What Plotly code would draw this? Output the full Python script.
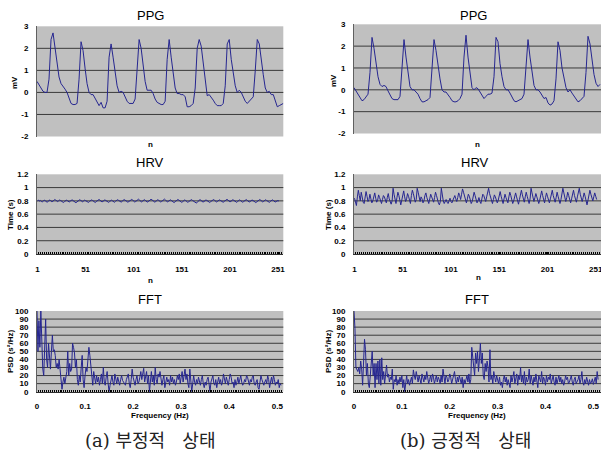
import plotly.graph_objects as go

# ---------------- data ----------------
ppg_left = [0.5, 0.35, 0.2, 0.05, 0.0, 0.0, 0.6, 2.4, 2.7, 2.0, 1.3, 0.7, 0.4, 0.3, 0.15, 0.0,
            -0.3, -0.5, -0.55, -0.55, -0.5, 0.6, 2.3, 1.9, 1.1, 0.4, 0.0, -0.1, -0.1, -0.25, -0.45,
            -0.6, -0.45, -0.7, -0.7, -0.4, 1.6, 2.2, 1.6, 0.9, 0.3, 0.0, 0.05, 0.0, -0.2, -0.4, -0.5,
            -0.5, -0.5, -0.3, 1.0, 2.4, 2.0, 1.2, 0.5, 0.1, 0.1, 0.1, -0.05, -0.3, -0.45, -0.5, -0.55,
            -0.55, -0.4, 1.5, 2.4, 1.6, 0.8, 0.2, -0.05, -0.05, -0.1, -0.1, -0.2, -0.65, -0.65, -0.6,
            -0.5, 0.2, 2.0, 2.4, 2.1, 1.3, 0.4, -0.15, -0.1, -0.2, -0.35, -0.5, -0.6, -0.6, -0.6, -0.5,
            0.3, 2.2, 2.4, 1.5, 0.9, 0.3, 0.0, 0.1, 0.0, -0.2, -0.4, -0.5, -0.4, -0.35, -0.2, 1.0, 2.4,
            2.2, 1.4, 0.8, 0.2, 0.0, 0.05, -0.1, -0.1, -0.35, -0.65, -0.6, -0.55, -0.5]

ppg_right = [0.1, -0.05, -0.25, -0.4, -0.5, -0.45, -0.35, -0.2, 0.8, 2.4, 1.9, 1.1, 0.6, 0.25, 0.15,
             0.2, 0.15, -0.05, -0.25, -0.4, -0.45, -0.45, -0.45, -0.3, 1.2, 2.3, 1.5, 0.8, 0.15, 0.0,
             0.0, -0.1, -0.2, -0.4, -0.55, -0.55, -0.5, -0.45, -0.35, 1.2, 2.3, 1.8, 1.0, 0.5, 0.0, -0.1,
             -0.1, -0.2, -0.35, -0.5, -0.55, -0.55, -0.5, -0.4, -0.2, 1.5, 2.5, 1.5, 0.7, 0.1, 0.0, 0.1,
             0.05, -0.1, -0.3, -0.4, -0.3, -0.2, -0.2, -0.15, 0.6, 2.4, 2.2, 1.2, 0.6, 0.15, 0.0, 0.0,
             -0.15, -0.35, -0.5, -0.55, -0.5, -0.45, -0.4, -0.2, 1.2, 2.3, 1.5, 0.8, 0.2, 0.0, 0.0, -0.1,
             -0.25, -0.4, -0.35, -0.6, -0.7, -0.65, -0.5, 0.5, 2.2, 1.8, 1.0, 0.5, 0.1, -0.1, 0.0, -0.15,
             -0.3, -0.45, -0.55, -0.5, -0.4, -0.3, 0.8, 2.45, 2.1, 1.3, 0.7, 0.3, 0.15, 0.25]

hrv_left_ms = [800, 812, 795, 806, 790, 785, 798, 810, 802, 788, 779, 792, 805, 815, 800, 786, 794, 808,
               820, 811, 797, 789, 801, 813, 806, 792, 780, 775, 788, 799, 810, 804, 791, 783, 795, 807,
               816, 803, 790, 778, 772, 784, 797, 809, 818, 806, 793, 786, 799, 811, 803, 790, 781, 777,
               789, 802, 814, 808, 795, 783, 776, 788, 800, 812, 821, 809, 796, 785, 791, 804, 815, 806,
               794, 782, 777, 790, 803, 811, 800, 787, 779, 792, 806, 817, 810, 798, 788, 781, 794, 807,
               819, 812, 799, 786, 779, 791, 805, 816, 822, 811, 797, 784, 790, 803, 814, 825, 812, 798,
               785, 793, 806, 818, 809, 795, 782, 788, 801, 813, 824, 815, 801, 787, 780, 792, 805, 817,
               808, 794, 784, 790, 803, 815, 826, 812, 797, 786, 791, 804, 816, 807, 793, 780, 774, 787,
               800, 812, 821, 810, 796, 783, 777, 789, 802, 814, 805, 791, 780, 786, 799, 811, 819, 808,
               795, 783, 770, 768, 775, 798, 810, 818, 806, 793, 782, 789, 802, 813, 807, 794, 781, 776,
               788, 801, 812, 820, 809, 796, 784, 790, 803, 815, 808, 795, 783, 779, 791, 804, 816, 823,
               811, 798, 786, 792, 805, 817, 809, 796, 784, 778, 790, 803, 815, 806, 792, 781, 787, 800,
               812, 819, 808, 795, 783, 789, 802, 814, 805, 791, 780, 774, 786, 799, 811, 820, 810, 797,
               785, 791, 804, 816, 807, 794, 782, 778, 790, 803, 815, 808, 795, 783, 789, 801, 806, 795]

hrv_right_ms = [840, 790, 730, 860, 960, 880, 800, 930, 850, 780, 760, 880, 940, 870, 790, 820, 900, 830,
                770, 800, 870, 920, 840, 780, 810, 890, 850, 790, 760, 820, 880, 860, 800, 770, 850, 910,
                830, 780, 750, 800, 990, 900, 820, 760, 850, 930, 880, 800, 740, 810, 900, 950, 860, 790,
                830, 910, 870, 800, 760, 880, 960, 910, 840, 780, 820, 990, 930, 850, 790, 860, 830, 770,
                800, 880, 920, 850, 790, 760, 830, 900, 860, 800, 780, 850, 930, 880, 810, 770, 740, 790,
                990, 870, 800, 760, 790, 820, 780, 760, 800, 840, 790, 770, 810, 850, 880, 830, 790, 850,
                920, 880, 820, 900, 980, 930, 860, 800, 770, 830, 900, 870, 810, 760, 790, 860, 930, 880,
                820, 770, 800, 850, 790, 760, 830, 900, 880, 830, 790, 860, 950, 990, 910, 850, 800, 760,
                820, 890, 860, 800, 770, 810, 880, 940, 870, 800, 760, 830, 900, 850, 790, 770, 860, 930,
                880, 810, 760, 800, 870, 920, 860, 790, 750, 820, 900, 960, 890, 820, 780, 860, 930, 870,
                800, 760, 830, 990, 920, 840, 790, 850, 910, 860, 800, 760, 810, 890, 950, 880, 810, 770,
                850, 920, 870, 800, 770, 830, 900, 960, 880, 820, 780, 850, 930, 870, 800, 760, 820, 890,
                990, 920, 840, 790, 850, 930, 880, 810, 770, 830, 910, 960, 880, 820, 780, 860, 940, 990,
                900, 830, 790, 850, 920, 870, 800, 740, 810, 890, 960, 900, 830, 800, 860, 920, 870, 820]

fft_left = [100, 50, 88, 55, 100, 60, 28, 20, 50, 90, 40, 30, 60, 45, 28, 50, 70, 50, 52, 45, 30, 35,
            28, 40, 25, 10, 3, 12, 18, 10, 20, 25, 50, 20, 35, 25, 28, 60, 55, 48, 30, 40, 15, 8, 20, 12,
            30, 45, 15, 5, 20, 30, 25, 40, 55, 45, 30, 18, 8, 25, 15, 10, 20, 12, 18, 8, 15, 22, 10, 30,
            12, 8, 18, 25, 10, 0, 8, 15, 20, 12, 8, 22, 15, 10, 18, 12, 8, 15, 20, 14, 12, 10, 8, 15, 18,
            22, 10, 5, 15, 28, 18, 12, 8, 15, 20, 10, 12, 18, 25, 15, 22, 29, 12, 18, 25, 10, 20, 0, 15,
            25, 12, 20, 8, 30, 15, 10, 22, 18, 25, 12, 8, 15, 20, 5, 10, 18, 12, 15, 8, 20, 12, 18, 10, 15,
            8, 12, 20, 15, 22, 10, 18, 25, 12, 20, 28, 15, 22, 10, 5, 28, 15, 0, 10, 20, 12, 8, 15, 10, 18,
            12, 8, 15, 20, 10, 5, 12, 8, 15, 18, 10, 0, 12, 15, 20, 10, 8, 15, 5, 12, 18, 10, 15, 8, 12,
            22, 15, 10, 18, 12, 8, 15, 22, 18, 10, 12, 5, 15, 8, 12, 18, 10, 15, 20, 12, 8, 10, 15, 12, 20,
            18, 10, 8, 15, 12, 18, 20, 10, 8, 12, 15, 5, 3, 12, 20, 15, 10, 8, 12, 15, 10, 20, 15, 5,
            12, 18, 10, 20, 15, 8, 12, 10, 15, 5, 10, 8]

fft_right = [100, 78, 30, 28, 25, 30, 22, 38, 28, 8, 30, 65, 52, 20, 35, 10, 5, 25, 40, 50, 20, 35, 5,
             35, 15, 38, 10, 40, 8, 42, 15, 25, 10, 20, 33, 18, 22, 12, 18, 15, 28, 3, 15, 12, 20, 8, 15,
             10, 18, 12, 20, 5, 15, 0, 12, 20, 10, 15, 8, 12, 18, 10, 27, 20, 15, 25, 18, 12, 20, 15, 10,
             22, 18, 12, 20, 15, 25, 18, 10, 15, 20, 12, 22, 18, 10, 15, 20, 12, 18, 15, 10, 20, 12, 28,
             15, 10, 20, 18, 12, 15, 22, 18, 10, 15, 20, 25, 15, 10, 18, 12, 20, 15, 10, 18, 5, 15, 10,
             15, 20, 12, 22, 10, 15, 55, 40, 30, 20, 48, 35, 50, 25, 40, 60, 35, 48, 20, 15, 35, 25, 38,
             30, 12, 52, 15, 20, 10, 25, 18, 12, 20, 15, 10, 18, 8, 12, 5, 15, 20, 12, 18, 8, 15, 10, 5,
             20, 12, 18, 25, 10, 15, 22, 8, 20, 15, 30, 12, 20, 10, 25, 8, 18, 12, 15, 28, 10, 20, 15, 8,
             18, 12, 22, 10, 5, 20, 15, 12, 25, 10, 18, 15, 8, 20, 12, 18, 15, 22, 10, 15, 20, 12, 8, 18,
             10, 15, 20, 12, 18, 10, 15, 8, 12, 20, 15, 18, 10, 12, 15, 20, 12, 8, 15, 18, 10, 12, 15, 20,
             10, 15, 25, 12, 8, 15, 10, 18, 12, 8, 15, 10, 12, 16, 9, 14, 18, 10, 25, 15]

fft_step = 0.002
hrv_ticks = [1, 51, 101, 151, 201, 251]
fft_ticks = [0, 0.1, 0.2, 0.3, 0.4, 0.5]
fft_ticktext = ["0", "0.1", "0.2", "0.3", "0.4", "0.5"]
ppg_yticks = [-2, -1, 0, 1, 2, 3]
ppg_yticktext = ["-2", "-1", "0", "1", "2", "3"]
hrv_yticks = [0, 0.2, 0.4, 0.6, 0.8, 1.0, 1.2]
hrv_yticktext = ["0", "0.2", "0.4", "0.6", "0.8", "1", "1.2"]
psd_yticks = [0, 10, 20, 30, 40, 50, 60, 70, 80, 90, 100]

# ---------------- figure ----------------
W, H = 601, 454
LINE = "#262690"
BG = "#c0c0c0"
GRID = "#3a3a3a"
TICKFONT = dict(family="Arial, Liberation Sans", size=8, color="#000000", weight="bold")


def px(x):
    return x / W


def py(y):
    return 1 - y / H


fig = go.Figure()
series = [
    (list(range(len(ppg_left))), ppg_left, "x", "y"),
    (list(range(len(ppg_right))), ppg_right, "x2", "y2"),
    (list(range(1, len(hrv_left_ms) + 1)), [v / 1000 for v in hrv_left_ms], "x3", "y3"),
    (list(range(1, len(hrv_right_ms) + 1)), [v / 1000 for v in hrv_right_ms], "x4", "y4"),
    ([i * fft_step for i in range(len(fft_left))], fft_left, "x5", "y5"),
    ([i * fft_step for i in range(len(fft_right))], fft_right, "x6", "y6"),
]
for xs, ys, xa, ya in series:
    fig.add_trace(go.Scatter(x=xs, y=ys, xaxis=xa, yaxis=ya, mode="lines",
                             line=dict(color=LINE, width=1), showlegend=False,
                             hoverinfo="skip"))

LX = [px(37), px(283.3)]
RX = [px(354), 1.0]
dom = {
    1: (LX, [py(136.5), py(26.3)]),
    2: (RX, [py(133.5), py(24.3)]),
    3: (LX, [py(254), py(174.3)]),
    4: (RX, [py(254), py(174.3)]),
    5: (LX, [py(391.7), py(311)]),
    6: (RX, [py(391.7), py(311)]),
}

layout = dict(width=W, height=H, margin=dict(l=0, r=0, t=0, b=0, autoexpand=False),
              paper_bgcolor="white", plot_bgcolor=BG, showlegend=False)

xranges = {1: [0, len(ppg_left) - 1], 2: [0, 123.5], 3: [0.5, 256.5], 4: [0.5, 256.5],
           5: [0, 0.5125], 6: [0, 0.516]}
yranges = {1: [-2, 3], 2: [-2, 3], 3: [0, 1.2], 4: [0, 1.2], 5: [0, 100], 6: [0, 100]}

for k in range(1, 7):
    xd, yd = dom[k]
    xn = "xaxis" if k == 1 else f"xaxis{k}"
    yn = "yaxis" if k == 1 else f"yaxis{k}"
    xa = dict(domain=xd, range=xranges[k], anchor="y" if k == 1 else f"y{k}",
              showgrid=False, zeroline=False, fixedrange=True, automargin=False,
              ticklabeloverflow="allow")
    if k in (1, 2):
        xa.update(showticklabels=False, ticks="", showline=False)
    elif k in (3, 4):
        xa.update(tickmode="array", tickvals=hrv_ticks, ticktext=[str(v) for v in hrv_ticks],
                  tickfont=TICKFONT, ticks="inside", ticklen=2, tickcolor="black",
                  showline=True, linecolor="#303030", linewidth=1, ticklabelstandoff=7,
                  minor=dict(ticks="inside", ticklen=2, tickcolor="black", dtick=2, tick0=0.5,
                             showgrid=False))
    else:
        xa.update(tickmode="array", tickvals=fft_ticks, ticktext=fft_ticktext,
                  tickfont=TICKFONT, ticks="inside", ticklen=2, tickcolor="black",
                  showline=True, linecolor="#303030", linewidth=1, ticklabelstandoff=7,
                  minor=dict(ticks="inside", ticklen=2, tickcolor="black", dtick=0.004, tick0=0,
                             showgrid=False))
    ya = dict(domain=yd, range=yranges[k], anchor="x" if k == 1 else f"x{k}",
              showgrid=False, zeroline=False, fixedrange=True, tickfont=TICKFONT,
              automargin=False, ticklabeloverflow="allow",
              ticks="", showline=True, linecolor="#606060", linewidth=1, ticklabelstandoff=6)
    if k in (1, 2):
        ya.update(tickmode="array", tickvals=ppg_yticks, ticktext=ppg_yticktext)
    elif k in (3, 4):
        ya.update(tickmode="array", tickvals=hrv_yticks, ticktext=hrv_yticktext)
    else:
        ya.update(tickmode="array", tickvals=psd_yticks, ticktext=[str(v) for v in psd_yticks])
    layout[xn] = xa
    layout[yn] = ya

fig.update_layout(**layout)

# gridlines (interior only, as in the reference)
grid_vals = {1: [-1, 0, 1, 2], 2: [-1, 0, 1, 2], 3: [0.2, 0.4, 0.6, 0.8, 1.0],
             4: [0.2, 0.4, 0.6, 0.8, 1.0], 5: list(range(10, 100, 10)), 6: list(range(10, 100, 10))}
for k, vals in grid_vals.items():
    xr = "x" if k == 1 else f"x{k}"
    yr = "y" if k == 1 else f"y{k}"
    for v in vals:
        fig.add_shape(type="line", xref=f"{xr} domain", yref=yr, x0=0, x1=1, y0=v, y1=v,
                      line=dict(color=GRID, width=1), layer="below")

TITLE = dict(family="Arial, Liberation Sans", size=13, color="#000000")
LAB = dict(family="Arial, Liberation Sans", size=8, color="#000000", weight="bold")
CAP = dict(family="DejaVu Serif, Noto Sans CJK KR", size=18, color="#222222")


def ann(text, x, y, font, angle=0):
    fig.add_annotation(text=text, x=px(x), y=py(y), xref="paper", yref="paper",
                       xanchor="center", yanchor="middle", showarrow=False, font=font,
                       textangle=angle)


ann("PPG", 150, 15, TITLE)
ann("PPG", 473, 15, TITLE)
ann("HRV", 150, 162, TITLE)
ann("HRV", 475, 162, TITLE)
ann("FFT", 150, 299, TITLE)
ann("FFT", 477, 299, TITLE)
ann("mV", 15, 83, LAB, -90)
ann("mV", 333, 80, LAB, -90)
ann("n", 150, 145, LAB)
ann("n", 477, 144, LAB)
ann("Time (s)", 10, 215, LAB, -90)
ann("Time (s)", 328, 215, LAB, -90)
ann("n", 150, 280, LAB)
ann("n", 478, 277, LAB)
ann("PSD (s²/Hz)", 10, 352, LAB, -90)
ann("PSD (s²/Hz)", 328, 352, LAB, -90)
ann("Frequency (Hz)", 160, 415, LAB)
ann("Frequency (Hz)", 477, 415, LAB)
ann("(a) 부정적\u00a0\u00a0 상태", 150, 440, CAP)
ann("(b) 긍정적\u00a0\u00a0 상태", 465, 440, CAP)

fig.write_html("out.html", config={"displayModeBar": False},
               post_script="document.body.style.margin='0';document.body.style.padding='0';")
